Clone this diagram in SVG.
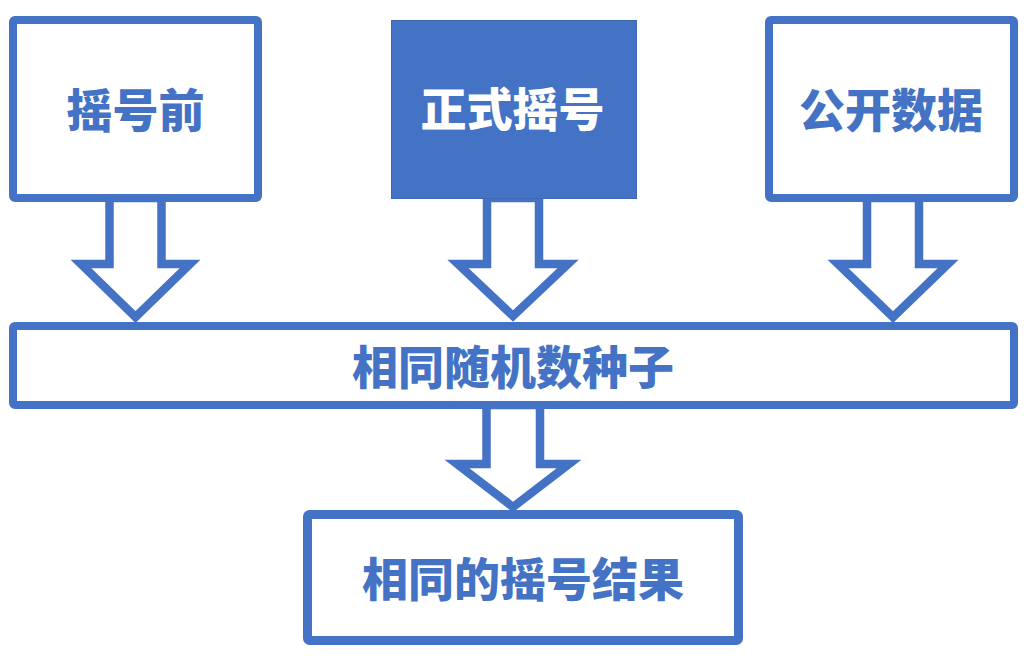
<svg xmlns="http://www.w3.org/2000/svg" width="1031" height="658" viewBox="0 0 1031 658">
<style>
.box{fill:#fff;stroke:#4472C4;stroke-width:8}
.fill{fill:#4472C4;stroke:#3F68B4;stroke-width:1}
.arr{fill:#fff;stroke:#4472C4;stroke-width:8.5;stroke-linejoin:miter;stroke-miterlimit:10}
.t{font-family:"Noto Sans CJK SC","Noto Sans",sans-serif;font-weight:900;font-size:46px;text-anchor:middle;dominant-baseline:central;fill:#4472C4}
.w{fill:#fff}
</style>
<rect width="1031" height="658" fill="#fff"/>
<g id="connectors">
<polygon class="arr" points="109.5,198 161.5,198 161.5,264 190,264 135.5,317 81,264 109.5,264"/>
<polygon class="arr" points="487,198 539,198 539,264 568,264 513,316 458,264 487,264"/>
<polygon class="arr" points="867,198 919,198 919,264 948,264 893,317 838,264 867,264"/>
<polygon class="arr" points="486.5,405 540,405 540,464 569,464 513,507 457,464 486.5,464"/>
</g>
<g id="node-before">
<rect class="box" x="13" y="20" width="245" height="178" rx="2"/>
<text class="t" x="135.5" y="107">摇号前</text>
</g>
<g id="node-draw">
<rect class="fill" x="391.5" y="20.5" width="245" height="178"/>
<text class="t w" x="512.5" y="106">正式摇号</text>
</g>
<g id="node-public">
<rect class="box" x="769" y="20" width="245" height="178" rx="2"/>
<text class="t" x="891" y="107">公开数据</text>
</g>
<g id="node-seed">
<rect class="box" x="13" y="326" width="1001" height="79" rx="2"/>
<text class="t" x="513" y="364">相同随机数种子</text>
</g>
<g id="node-result">
<rect class="box" x="307.5" y="514.5" width="431" height="126" rx="2" style="stroke-width:9"/>
<text class="t" x="523" y="576">相同的摇号结果</text>
</g>
</svg>
